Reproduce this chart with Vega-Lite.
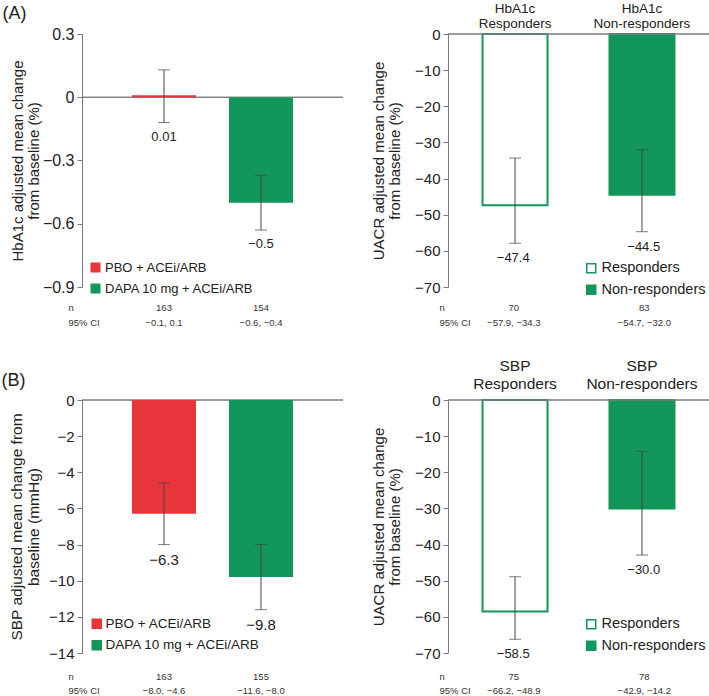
{
  "$schema": "https://vega.github.io/schema/vega-lite/v6.json",
  "background": "white",
  "padding": {"left": 1, "top": 1, "right": 0, "bottom": 0},
  "config": {
    "font": "Liberation Sans",
    "view": {"stroke": null},
    "axis": {"labelColor": "#222", "titleColor": "#222", "titleFontWeight": "normal", "domainColor": "#7a7a7a", "tickColor": "#7a7a7a", "grid": false, "labelFont": "Liberation Sans", "titleFont": "Liberation Sans"},
    "legend": {"labelFont": "Liberation Sans", "labelColor": "#222"},
    "title": {"font": "Liberation Sans", "color": "#222", "fontWeight": "normal"}
  },
  "datasets": {
    "hba1c": [
      {"group": "PBO + ACEi/ARB", "nci": "163\n−0.1, 0.1", "value": 0.01, "lower": -0.12, "upper": 0.13, "label": "0.01"},
      {"group": "DAPA 10 mg + ACEi/ARB", "nci": "154\n−0.6, −0.4", "value": -0.5, "lower": -0.63, "upper": -0.37, "label": "−0.5"}
    ],
    "uacr_hba1c": [
      {"group": "Responders", "header": "HbA1c\nResponders", "nci": "70\n−57.9, −34.3", "value": -47.4, "lower": -57.9, "upper": -34.3, "label": "−47.4"},
      {"group": "Non-responders", "header": "HbA1c\nNon-responders", "nci": "83\n−54.7, −32.0", "value": -44.5, "lower": -54.7, "upper": -32.0, "label": "−44.5"}
    ],
    "sbp": [
      {"group": "PBO + ACEi/ARB", "nci": "163\n−8.0, −4.6", "value": -6.3, "lower": -8.0, "upper": -4.6, "label": "−6.3"},
      {"group": "DAPA 10 mg + ACEi/ARB", "nci": "155\n−11.6, −8.0", "value": -9.8, "lower": -11.6, "upper": -8.0, "label": "−9.8"}
    ],
    "uacr_sbp": [
      {"group": "Responders", "header": "SBP\nResponders", "nci": "75\n−66.2, −48.9", "value": -58.5, "lower": -66.2, "upper": -48.9, "label": "−58.5"},
      {"group": "Non-responders", "header": "SBP\nNon-responders", "nci": "78\n−42.9, −14.2", "value": -30.0, "lower": -42.9, "upper": -14.2, "label": "−30.0"}
    ]
  },
  "spacing": 31,
  "resolve": {"scale": {"color": "independent", "fill": "independent"}, "legend": {"color": "independent", "fill": "independent"}},
  "vconcat": [
    {
      "resolve": {"scale": {"color": "independent", "fill": "independent"}, "legend": {"color": "independent", "fill": "independent"}},
      "hconcat": [
        {
          "width": 261, "height": 253,
          "title": {"text": "(A)", "anchor": "start", "frame": "bounds", "fontSize": 18, "offset": 3, "dx": -8},
          "data": {"name": "hba1c"},
          "resolve": {"axis": {"x": "independent", "y": "independent"}},
          "layer": [
            {"mark": {"type": "rule", "color": "#7a7a7a", "strokeWidth": 1}, "encoding": {"y": {"datum": 0, "type": "quantitative", "axis": null}}},
            {
              "mark": {"type": "bar"},
              "encoding": {
                "x": {"field": "nci", "type": "nominal", "sort": null, "scale": {"paddingInner": 0.34, "paddingOuter": 0.515},
                  "axis": {"orient": "bottom", "domain": false, "ticks": false, "tickSize": 0, "labelPadding": 15, "labelFontSize": 9.5, "labelLineHeight": 15, "labelAngle": 0, "labelExpr": "split(datum.value, '\\n')", "labelColor": "#333", "labelOverlap": false, "title": ["n", "95% CI"], "titleX": -14, "titleY": 15, "titleAlign": "left", "titleBaseline": "top", "titleFontSize": 9.5, "titleLineHeight": 15, "titleColor": "#333"}},
                "y": {"field": "value", "type": "quantitative", "scale": {"domain": [-0.9, 0.3], "nice": false, "zero": false},
                  "axis": {"orient": "left", "title": ["HbA1c adjusted mean change", "from baseline (%)"], "values": [0.3, 0, -0.3, -0.6, -0.9], "labelExpr": "datum.value == 0 ? '0' : format(datum.value, '.1f')", "labelFontSize": 16, "tickSize": 5, "labelPadding": 3, "titlePadding": 1, "titleFontSize": 15, "titleLineHeight": 16}},
                "color": {"field": "group", "type": "nominal", "scale": {"domain": ["PBO + ACEi/ARB", "DAPA 10 mg + ACEi/ARB"], "range": ["#e8353b", "#129659"]},
                  "legend": {"title": null, "orient": "none", "legendX": 7, "legendY": 227, "symbolType": "square", "symbolSize": 100, "labelFontSize": 13, "rowPadding": 7, "labelOffset": 3, "padding": 0, "symbolStrokeWidth": 0}}
              }
            },
            {
              "mark": {"type": "errorbar", "ticks": {"size": 12, "color": "#444"}, "color": "#444", "thickness": 1},
              "encoding": {
                "x": {"field": "nci", "type": "nominal", "sort": null, "axis": null},
                "y": {"field": "lower", "type": "quantitative", "axis": null},
                "y2": {"field": "upper"}
              }
            },
            {
              "mark": {"type": "text", "fontSize": 13, "color": "#222", "baseline": "middle", "dy": 14},
              "encoding": {
                "x": {"field": "nci", "type": "nominal", "sort": null, "axis": null},
                "y": {"field": "lower", "type": "quantitative", "axis": null},
                "text": {"field": "label"}
              }
            }
          ]
        },
        {
          "width": 261, "height": 253,
          "data": {"name": "uacr_hba1c"},
          "resolve": {"scale": {"x": "independent"}, "axis": {"x": "independent", "y": "independent"}},
          "layer": [
            {
              "mark": {"type": "bar", "stroke": "#129659", "strokeWidth": 2},
              "encoding": {
                "x": {"field": "header", "type": "nominal", "sort": null, "scale": {"paddingInner": 0.488, "paddingOuter": 0.272},
                  "axis": {"orient": "top", "domain": false, "ticks": false, "tickSize": 0, "labelPadding": 19, "labelFontSize": 13.5, "labelLineHeight": 15, "labelAngle": 0, "labelExpr": "split(datum.value, '\\n')", "labelOverlap": false, "title": null}},
                "y": {"field": "value", "type": "quantitative", "scale": {"domain": [-70, 0], "nice": false},
                  "axis": {"orient": "left", "title": ["UACR adjusted mean change", "from baseline (%)"], "values": [0, -10, -20, -30, -40, -50, -60, -70], "labelFontSize": 15, "tickSize": 5, "labelPadding": 3, "titlePadding": 12, "titleFontSize": 15, "titleLineHeight": 16}},
                "fill": {"field": "group", "type": "nominal", "scale": {"domain": ["Responders", "Non-responders"], "range": ["#ffffff", "#129659"]},
                  "legend": {"title": null, "orient": "none", "legendX": 136, "legendY": 227, "symbolType": "square", "symbolSize": 81, "labelFontSize": 14.5, "rowPadding": 5.5, "labelOffset": 3, "padding": 0,
                    "encode": {"symbols": {"update": {"stroke": {"value": "#129659"}, "strokeWidth": {"value": 1.8}}}}}}
              }
            },
            {"mark": {"type": "rule", "color": "#7a7a7a", "strokeWidth": 1}, "encoding": {"y": {"datum": 0, "type": "quantitative", "axis": null}}},
            {
              "mark": {"type": "errorbar", "ticks": {"size": 12, "color": "#444"}, "color": "#444", "thickness": 1},
              "encoding": {
                "x": {"field": "header", "type": "nominal", "sort": null, "scale": {"paddingInner": 0.488, "paddingOuter": 0.272}, "axis": null},
                "y": {"field": "lower", "type": "quantitative", "axis": null},
                "y2": {"field": "upper"}
              }
            },
            {
              "mark": {"type": "text", "fontSize": 13, "color": "#222", "baseline": "middle", "dy": 15},
              "encoding": {
                "x": {"field": "nci", "type": "nominal", "sort": null, "scale": {"paddingInner": 0.488, "paddingOuter": 0.272},
                  "axis": {"orient": "bottom", "domain": false, "ticks": false, "tickSize": 0, "labelPadding": 15, "labelFontSize": 9.5, "labelLineHeight": 15, "labelAngle": 0, "labelExpr": "split(datum.value, '\\n')", "labelColor": "#333", "labelOverlap": false, "title": ["n", "95% CI"], "titleX": -9, "titleY": 15, "titleAlign": "left", "titleBaseline": "top", "titleFontSize": 9.5, "titleLineHeight": 15, "titleColor": "#333"}},
                "y": {"field": "lower", "type": "quantitative", "axis": null},
                "text": {"field": "label"}
              }
            }
          ]
        }
      ],
      "spacing": 105,
      "bounds": "flush"
    },
    {
      "resolve": {"scale": {"color": "independent", "fill": "independent"}, "legend": {"color": "independent", "fill": "independent"}},
      "hconcat": [
        {
          "width": 261, "height": 253,
          "title": {"text": "(B)", "anchor": "start", "frame": "bounds", "fontSize": 18, "offset": 3, "dx": -8},
          "data": {"name": "sbp"},
          "resolve": {"axis": {"x": "independent", "y": "independent"}},
          "layer": [
            {"mark": {"type": "rule", "color": "#7a7a7a", "strokeWidth": 1}, "encoding": {"y": {"datum": 0, "type": "quantitative", "axis": null}}},
            {
              "mark": {"type": "bar"},
              "encoding": {
                "x": {"field": "nci", "type": "nominal", "sort": null, "scale": {"paddingInner": 0.34, "paddingOuter": 0.515},
                  "axis": {"orient": "bottom", "domain": false, "ticks": false, "tickSize": 0, "labelPadding": 18, "labelFontSize": 9.5, "labelLineHeight": 14, "labelAngle": 0, "labelExpr": "split(datum.value, '\\n')", "labelColor": "#333", "labelOverlap": false, "title": ["n", "95% CI"], "titleX": -14, "titleY": 18, "titleAlign": "left", "titleBaseline": "top", "titleFontSize": 9.5, "titleLineHeight": 14, "titleColor": "#333"}},
                "y": {"field": "value", "type": "quantitative", "scale": {"domain": [-14, 0], "nice": false},
                  "axis": {"orient": "left", "title": ["SBP adjusted mean change from", "baseline (mmHg)"], "values": [0, -2, -4, -6, -8, -10, -12, -14], "labelFontSize": 15, "tickSize": 5, "labelPadding": 3, "titlePadding": 7, "titleFontSize": 15.5, "titleLineHeight": 17}},
                "color": {"field": "group", "type": "nominal", "scale": {"domain": ["PBO + ACEi/ARB", "DAPA 10 mg + ACEi/ARB"], "range": ["#e8353b", "#129659"]},
                  "legend": {"title": null, "orient": "none", "legendX": 8, "legendY": 217, "symbolType": "square", "symbolSize": 110, "labelFontSize": 13.5, "rowPadding": 6.5, "labelOffset": 2, "padding": 0, "symbolStrokeWidth": 0}}
              }
            },
            {
              "mark": {"type": "errorbar", "ticks": {"size": 12, "color": "#444"}, "color": "#444", "thickness": 1},
              "encoding": {
                "x": {"field": "nci", "type": "nominal", "sort": null, "axis": null},
                "y": {"field": "lower", "type": "quantitative", "axis": null},
                "y2": {"field": "upper"}
              }
            },
            {
              "mark": {"type": "text", "fontSize": 15, "color": "#222", "baseline": "middle", "dy": 15},
              "encoding": {
                "x": {"field": "nci", "type": "nominal", "sort": null, "axis": null},
                "y": {"field": "lower", "type": "quantitative", "axis": null},
                "text": {"field": "label"}
              }
            }
          ]
        },
        {
          "width": 261, "height": 253,
          "data": {"name": "uacr_sbp"},
          "resolve": {"scale": {"x": "independent"}, "axis": {"x": "independent", "y": "independent"}},
          "layer": [
            {
              "mark": {"type": "bar", "stroke": "#129659", "strokeWidth": 2},
              "encoding": {
                "x": {"field": "header", "type": "nominal", "sort": null, "scale": {"paddingInner": 0.488, "paddingOuter": 0.272},
                  "axis": {"orient": "top", "domain": false, "ticks": false, "tickSize": 0, "labelPadding": 27, "labelFontSize": 15.5, "labelLineHeight": 18, "labelAngle": 0, "labelExpr": "split(datum.value, '\\n')", "labelOverlap": false, "title": null}},
                "y": {"field": "value", "type": "quantitative", "scale": {"domain": [-70, 0], "nice": false},
                  "axis": {"orient": "left", "title": ["UACR adjusted mean change", "from baseline (%)"], "values": [0, -10, -20, -30, -40, -50, -60, -70], "labelFontSize": 15, "tickSize": 5, "labelPadding": 3, "titlePadding": 12, "titleFontSize": 15, "titleLineHeight": 16}},
                "fill": {"field": "group", "type": "nominal", "scale": {"domain": ["Responders", "Non-responders"], "range": ["#ffffff", "#129659"]},
                  "legend": {"title": null, "orient": "none", "legendX": 136, "legendY": 217, "symbolType": "square", "symbolSize": 81, "labelFontSize": 14.5, "rowPadding": 5.5, "labelOffset": 3, "padding": 0,
                    "encode": {"symbols": {"update": {"stroke": {"value": "#129659"}, "strokeWidth": {"value": 1.8}}}}}}
              }
            },
            {"mark": {"type": "rule", "color": "#7a7a7a", "strokeWidth": 1}, "encoding": {"y": {"datum": 0, "type": "quantitative", "axis": null}}},
            {
              "mark": {"type": "errorbar", "ticks": {"size": 12, "color": "#444"}, "color": "#444", "thickness": 1},
              "encoding": {
                "x": {"field": "header", "type": "nominal", "sort": null, "scale": {"paddingInner": 0.488, "paddingOuter": 0.272}, "axis": null},
                "y": {"field": "lower", "type": "quantitative", "axis": null},
                "y2": {"field": "upper"}
              }
            },
            {
              "mark": {"type": "text", "fontSize": 13, "color": "#222", "baseline": "middle", "dy": 15},
              "encoding": {
                "x": {"field": "nci", "type": "nominal", "sort": null, "scale": {"paddingInner": 0.488, "paddingOuter": 0.272},
                  "axis": {"orient": "bottom", "domain": false, "ticks": false, "tickSize": 0, "labelPadding": 18, "labelFontSize": 9.5, "labelLineHeight": 14, "labelAngle": 0, "labelExpr": "split(datum.value, '\\n')", "labelColor": "#333", "labelOverlap": false, "title": ["n", "95% CI"], "titleX": -9, "titleY": 18, "titleAlign": "left", "titleBaseline": "top", "titleFontSize": 9.5, "titleLineHeight": 14, "titleColor": "#333"}},
                "y": {"field": "lower", "type": "quantitative", "axis": null},
                "text": {"field": "label"}
              }
            }
          ]
        }
      ],
      "spacing": 105,
      "bounds": "flush"
    }
  ]
}
